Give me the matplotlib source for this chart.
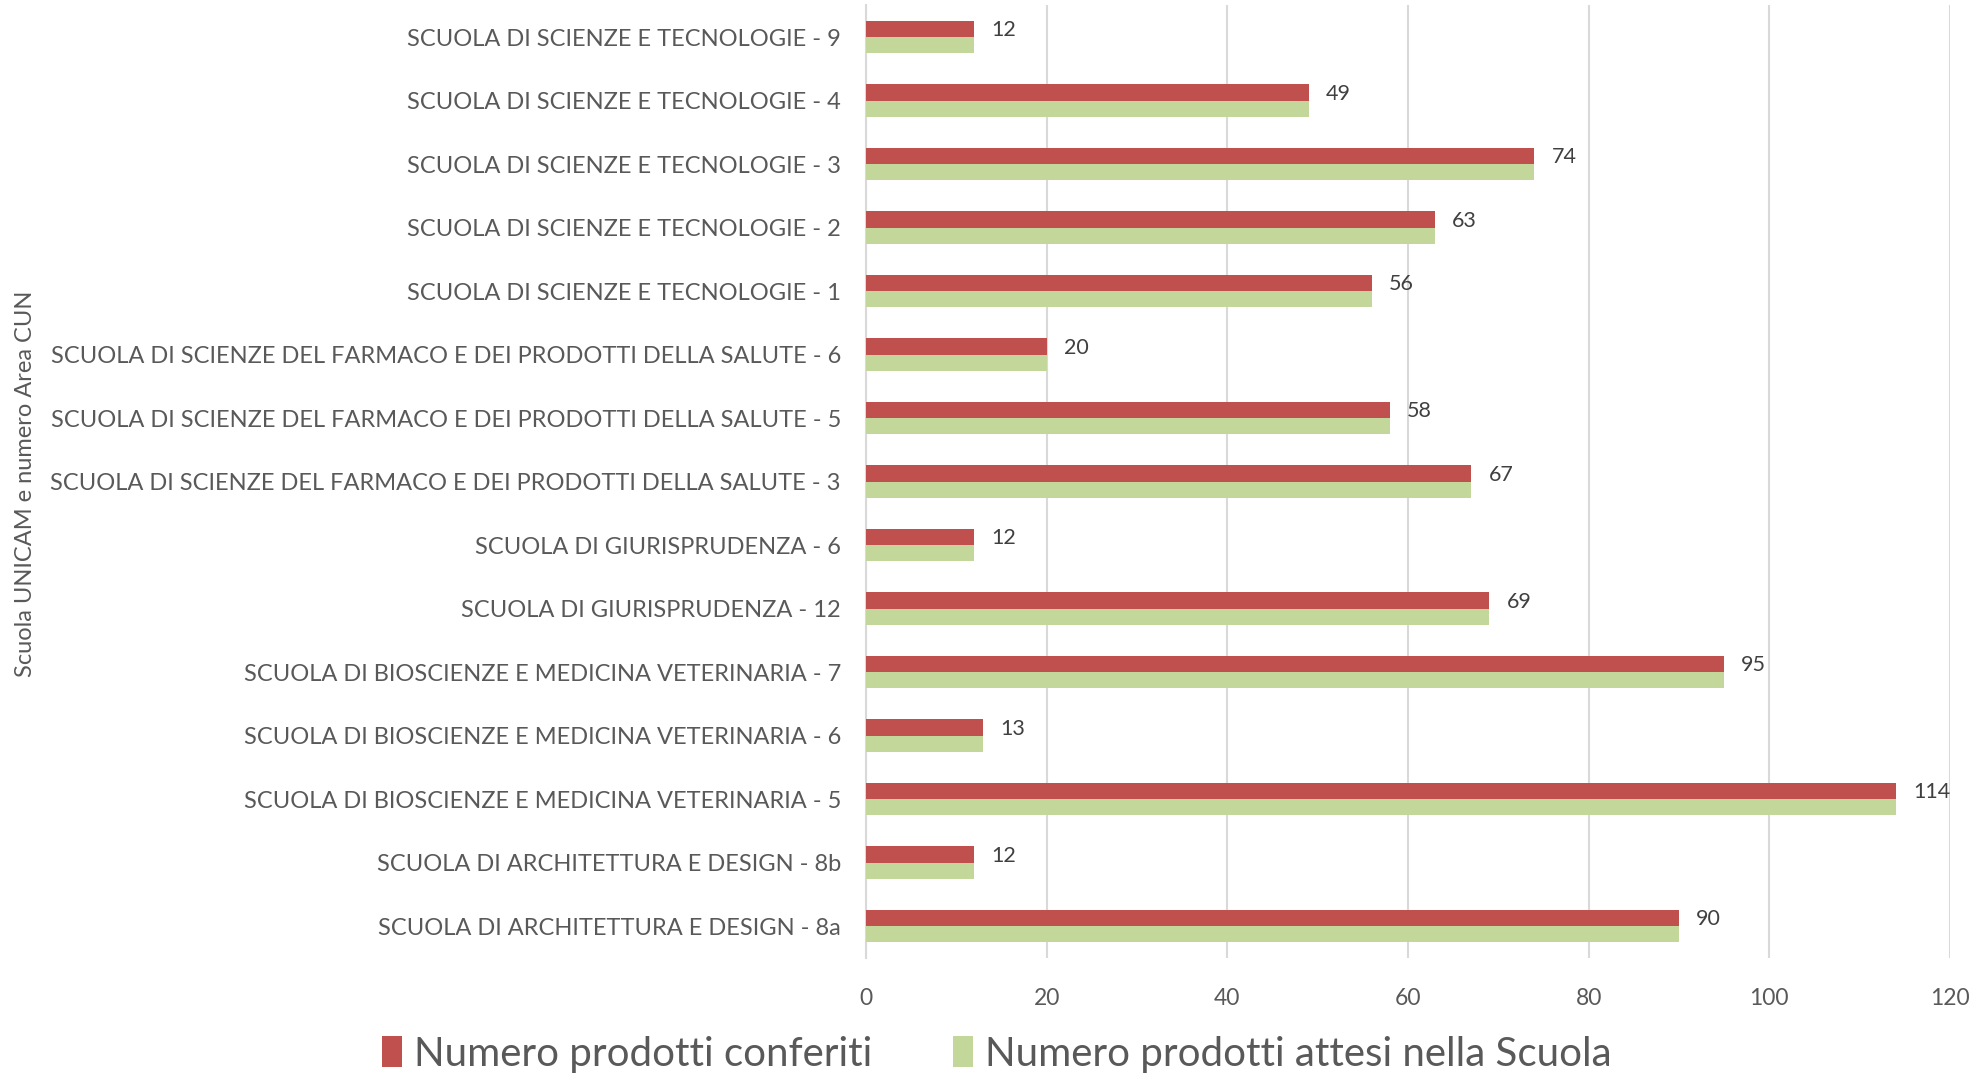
import numpy as np
import matplotlib.pyplot as plt

# ======================
# DATI
# ======================

categorie = [
    "SCUOLA DI ARCHITETTURA E DESIGN - 8a",
    "SCUOLA DI ARCHITETTURA E DESIGN - 8b",
    "SCUOLA DI BIOSCIENZE E MEDICINA VETERINARIA - 5",
    "SCUOLA DI BIOSCIENZE E MEDICINA VETERINARIA - 6",
    "SCUOLA DI BIOSCIENZE E MEDICINA VETERINARIA - 7",
    "SCUOLA DI GIURISPRUDENZA - 12",
    "SCUOLA DI GIURISPRUDENZA - 6",
    "SCUOLA DI SCIENZE DEL FARMACO E DEI PRODOTTI DELLA SALUTE - 3",
    "SCUOLA DI SCIENZE DEL FARMACO E DEI PRODOTTI DELLA SALUTE - 5",
    "SCUOLA DI SCIENZE DEL FARMACO E DEI PRODOTTI DELLA SALUTE - 6",
    "SCUOLA DI SCIENZE E TECNOLOGIE - 1",
    "SCUOLA DI SCIENZE E TECNOLOGIE - 2",
    "SCUOLA DI SCIENZE E TECNOLOGIE - 3",
    "SCUOLA DI SCIENZE E TECNOLOGIE - 4",
    "SCUOLA DI SCIENZE E TECNOLOGIE - 9",
]

conferiti = [90, 12, 114, 13, 95, 69, 12, 67, 58, 20, 56, 63, 74, 49, 12]
attesi = [90, 12, 114, 13, 95, 69, 12, 67, 58, 20, 56, 63, 74, 49, 12]

x_ticks = [0, 20, 40, 60, 80, 100, 120]

# ======================
# STILE
# ======================

ROSSO = "#C0504D"
VERDE = "#C4D79B"
TESTO = "#595959"
GRIGLIA = "#D9D9D9"

plt.rcParams["font.family"] = ["Lato", "DejaVu Sans"]

fig = plt.figure(figsize=(19.88, 10.78), dpi=100)
ax = fig.add_axes([0.4356, 0.1115, 0.5453, 0.8836])

y = np.arange(len(categorie))
h = 0.257

ax.barh(y + h / 2, conferiti, height=h, color=ROSSO, label="Numero prodotti conferiti", zorder=3)
ax.barh(y - h / 2, attesi, height=h, color=VERDE, label="Numero prodotti attesi nella Scuola", zorder=3)

# etichette solo sulla serie rossa
for yi, v in zip(y, conferiti):
    ax.text(v + 1.9, yi + h / 2 - 0.02, str(v), va="center", ha="left", fontsize=15.5, color="#404040")

ax.set_xlim(0, 120)
ax.set_ylim(-0.5, len(categorie) - 0.5)
ax.set_xticks(x_ticks)
ax.set_yticks(y)
ax.set_yticklabels(categorie)

ax.tick_params(axis="both", length=0, labelcolor=TESTO)
ax.tick_params(axis="x", pad=22, labelsize=16.5)
ax.tick_params(axis="y", pad=18, labelsize=17)

ax.grid(axis="x", color=GRIGLIA, linewidth=1.5, zorder=0)
for s in ["top", "right", "bottom"]:
    ax.spines[s].set_visible(False)
ax.spines["left"].set_color(GRIGLIA)
ax.spines["left"].set_linewidth(1.5)

fig.text(0.0126, 0.551, "Scuola UNICAM e numero Area CUN", rotation=90,
         va="center", ha="center", fontsize=17, color=TESTO)

fig.legend(loc="center", bbox_to_anchor=(0.5015, 0.022), ncol=2, frameon=False,
           fontsize=29, labelcolor=TESTO, handlelength=0.5, handleheight=0.8,
           handletextpad=0.3, columnspacing=2.0)

fig.savefig("out.png", dpi=100, facecolor="white")
